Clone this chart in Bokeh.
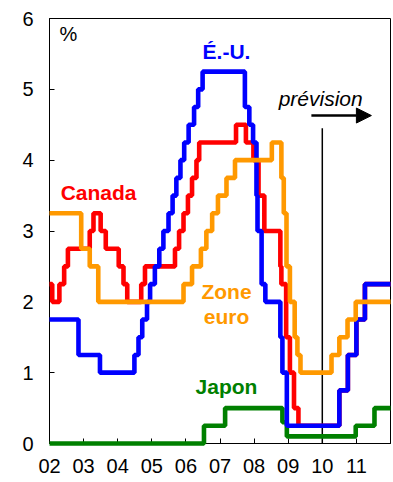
from bokeh.plotting import figure
from bokeh.models import Label, FixedTicker, Arrow, NormalHead, Range1d
from bokeh.embed import file_html
from bokeh.resources import INLINE

# Policy rates (%), change points as decimal years (step "after")
us_t = [2002.0, 2002.85, 2003.48, 2004.49, 2004.61, 2004.72, 2004.86, 2004.95, 2005.09, 2005.22,
        2005.34, 2005.49, 2005.61, 2005.72, 2005.84, 2005.95, 2006.08, 2006.24, 2006.36, 2006.49,
        2007.73, 2007.86, 2007.97, 2008.07, 2008.1, 2008.22, 2008.33, 2008.77, 2008.83, 2008.96,
        2010.5, 2010.75, 2011.0, 2011.25, 2012.0]
us_v = [1.75, 1.25, 1.0, 1.25, 1.5, 1.75, 2.0, 2.25, 2.5, 2.75,
        3.0, 3.25, 3.5, 3.75, 4.0, 4.25, 4.5, 4.75, 5.0, 5.25,
        4.75, 4.5, 4.25, 3.5, 3.0, 2.25, 2.0, 1.5, 1.0, 0.25,
        0.75, 1.25, 1.75, 2.25, 2.25]

ca_t = [2002.0, 2002.08, 2002.29, 2002.43, 2002.54, 2003.18, 2003.29, 2003.5, 2003.65, 2004.03,
        2004.17, 2004.28, 2004.69, 2004.8, 2005.68, 2005.8, 2005.93, 2006.06, 2006.18, 2006.31,
        2006.39, 2007.47, 2007.76, 2007.98, 2008.13, 2008.3, 2008.77, 2008.8, 2008.94, 2009.05,
        2009.17, 2009.3, 2010.5, 2010.75, 2011.0, 2011.25, 2012.0]
ca_v = [2.25, 2.0, 2.25, 2.5, 2.75, 3.0, 3.25, 3.0, 2.75, 2.5,
        2.25, 2.0, 2.25, 2.5, 2.75, 3.0, 3.25, 3.5, 3.75, 4.0,
        4.25, 4.5, 4.25, 4.0, 3.5, 3.0, 2.5, 2.25, 1.5, 1.0,
        0.5, 0.25, 0.75, 1.25, 1.75, 2.25, 2.25]

eu_t = [2002.0, 2002.93, 2003.18, 2003.43, 2005.93, 2006.18, 2006.44, 2006.6, 2006.77, 2006.94,
        2007.19, 2007.44, 2008.52, 2008.8, 2008.87, 2008.95, 2009.05, 2009.19, 2009.27, 2009.36,
        2010.27, 2010.5, 2010.74, 2010.98, 2012.0]
eu_v = [3.25, 2.75, 2.5, 2.0, 2.25, 2.5, 2.75, 3.0, 3.25, 3.5,
        3.75, 4.0, 4.25, 3.75, 3.25, 2.5, 2.0, 1.5, 1.25, 1.0,
        1.25, 1.5, 1.75, 2.0, 2.0]

jp_t = [2002.0, 2006.53, 2007.15, 2008.83, 2008.96, 2010.98, 2011.53, 2012.0]
jp_v = [0.0, 0.25, 0.5, 0.3, 0.1, 0.25, 0.5, 0.5]

x_ticks = [2002, 2003, 2004, 2005, 2006, 2007, 2008, 2009, 2010, 2011, 2012]
x_labels = ["02", "03", "04", "05", "06", "07", "08", "09", "10", "11", ""]
y_ticks = [0, 1, 2, 3, 4, 5, 6]

forecast_start = 2010.0
forecast_top = 4.45

BLUE = "#0000FF"
RED = "#FF0000"
ORANGE = "#FF9900"
GREEN = "#008000"
FONT = "Liberation Sans"

p = figure(width=393, height=482, output_backend="svg", toolbar_location=None,
           x_range=Range1d(2002, 2012), y_range=Range1d(0, 6),
           min_border_left=49, min_border_right=3, min_border_top=18, min_border_bottom=39)
p.xgrid.visible = False
p.ygrid.visible = False
p.outline_line_color = "black"
p.outline_line_width = 1
p.background_fill_color = "white"
p.border_fill_color = "white"

for ax in (p.xaxis, p.yaxis):
    ax.axis_line_color = "black"
    ax.axis_line_width = 1
    ax.major_tick_in = 5
    ax.major_tick_out = 0
    ax.minor_tick_in = 0
    ax.minor_tick_out = 0
    ax.major_tick_line_color = "black"
    ax.major_label_text_font = FONT
    ax.major_label_text_font_size = "20px"
    ax.major_label_text_color = "black"
p.xaxis.major_label_standoff = 15
p.yaxis.major_label_standoff = 16

p.xaxis.ticker = FixedTicker(ticks=x_ticks)
p.xaxis.major_label_overrides = {t: l for t, l in zip(x_ticks, x_labels)}
p.yaxis.ticker = FixedTicker(ticks=y_ticks)

lw = 4.6
p.step(jp_t, jp_v, mode="after", line_color=GREEN, line_width=lw, level="overlay")
p.step(ca_t, ca_v, mode="after", line_color=RED, line_width=lw, level="overlay")
p.step(us_t, us_v, mode="after", line_color=BLUE, line_width=lw, level="overlay")
p.step(eu_t, eu_v, mode="after", line_color=ORANGE, line_width=lw, level="overlay")

p.segment(x0=[forecast_start], y0=[0], x1=[forecast_start], y1=[forecast_top],
          line_color="black", line_width=1.5)

p.add_layout(Arrow(end=NormalHead(size=15, fill_color="black", line_color="black"),
                   x_start=2009.68, y_start=4.63, x_end=2011.44, y_end=4.63,
                   line_color="black", line_width=2.5))

def lab(x, y, text, color, size="21px", style="bold", align="center"):
    p.add_layout(Label(x=x, y=y, text=text, text_color=color, text_font=FONT,
                       text_font_size=size, text_font_style=style,
                       text_align=align, text_baseline="alphabetic"))

lab(2007.19, 5.53, "É.-U.", BLUE)
lab(2003.44, 3.55, "Canada", RED)
lab(2007.19, 2.14, "Zone", ORANGE)
lab(2007.19, 1.79, "euro", ORANGE)
lab(2007.19, 0.8, "Japon", GREEN)
lab(2002.29, 5.78, "%", "black", size="20px", style="normal", align="left")
lab(2008.72, 4.87, "prévision", "black", size="21px", style="italic", align="left")

open("out.html", "w").write(file_html(p, INLINE))
